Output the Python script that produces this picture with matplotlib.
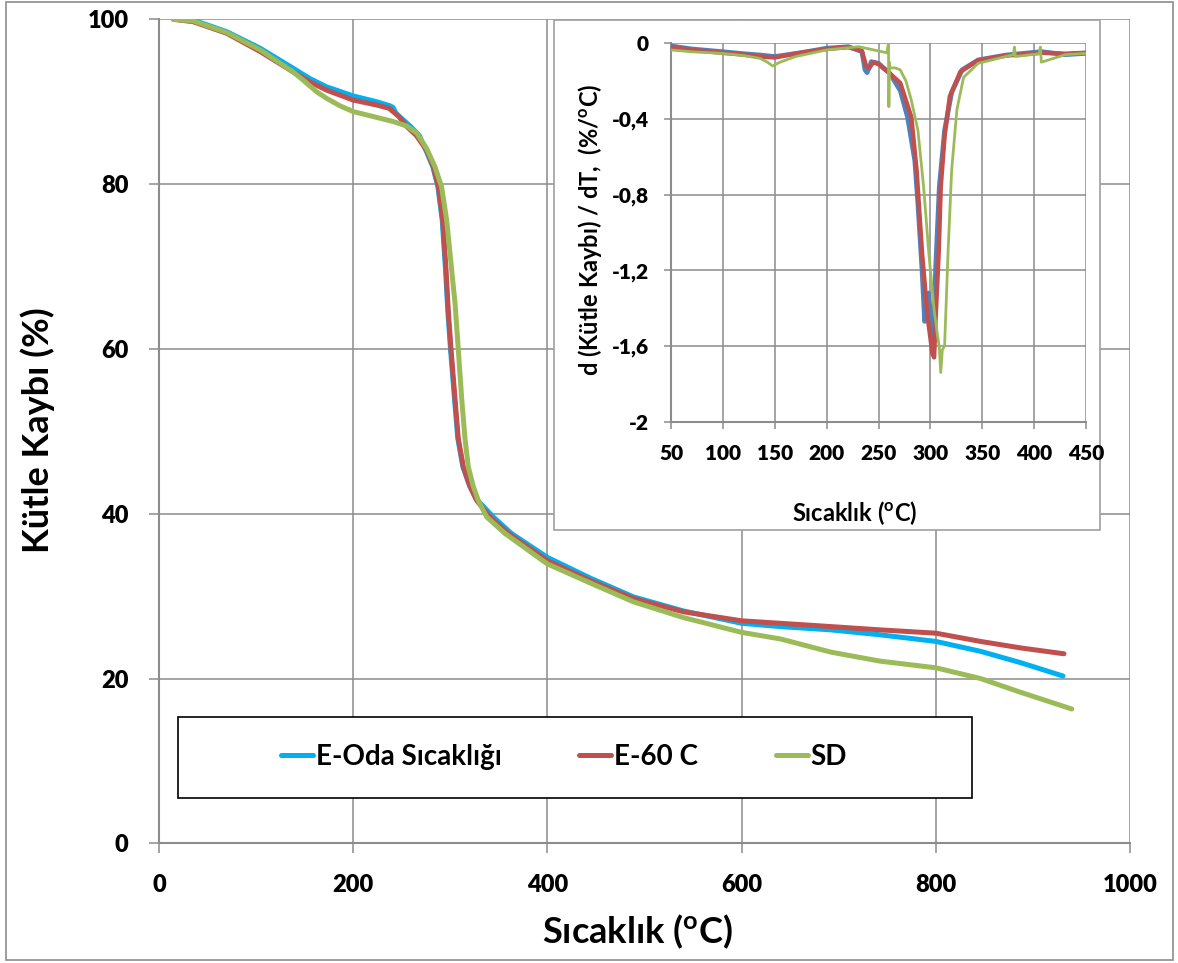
import matplotlib
matplotlib.use("Agg")
import matplotlib.pyplot as plt
from matplotlib.patches import Rectangle

plt.rcParams['font.family'] = ['Lato', 'DejaVu Sans']
plt.rcParams['font.weight'] = 'bold'
plt.rcParams['mathtext.fontset'] = 'custom'
plt.rcParams['mathtext.rm'] = 'Lato:bold'
plt.rcParams['mathtext.bf'] = 'Lato:bold'

# ---------------- main TGA data ----------------
series_names = ["E-Oda Sıcaklığı", "E-60 C", "SD"]

t_blue = [15, 35.4, 69.7, 104, 138.3, 155.5, 172.7, 200, 224, 238, 241, 244, 259, 268, 275.2,
          282, 287.2, 291.7, 295.1, 297.5, 300.2, 304.3, 307.7, 312.9, 319.8, 326.7, 344.3,
          363, 400, 443.9, 488.7, 540, 600, 640, 692, 743, 800, 846, 888, 931]
m_blue = [100, 99.9, 98.5, 96.5, 94.05, 92.8, 91.8, 90.7, 90.0, 89.5, 89.3, 88.6, 87.0, 85.9, 84.0,
          82.1, 79.7, 75.6, 69.6, 64.5, 60, 54.0, 49.15, 45.7, 43.4, 41.8, 39.6,
          37.6, 34.7, 32.2, 29.9, 28.2, 26.7, 26.3, 25.9, 25.3, 24.5, 23.3, 21.9, 20.3]

t_red = [15, 35.4, 69.7, 104, 138.3, 155.5, 172.7, 200, 224, 237, 247, 255, 265, 275.7, 282.5,
         287.7, 292.2, 295.6, 298, 300.7, 304.8, 308.2, 313.4, 320.3, 327.2, 340.9, 359.8,
         400, 443.9, 488.7, 540, 600, 640, 692, 743, 800, 846, 888, 932]
m_red = [100, 99.7, 98.3, 96.1, 93.6, 92.4, 91.4, 90.2, 89.6, 89.2, 88.2, 87.0, 85.9, 84.1, 82.1,
         79.7, 75.6, 69.6, 64.5, 60, 54.0, 49.15, 45.7, 43.3, 41.6, 39.6, 37.6,
         34.3, 31.9, 29.7, 28.1, 27.0, 26.7, 26.3, 25.9, 25.5, 24.5, 23.7, 23.0]

t_green = [14.6, 35.4, 69.7, 104, 138.3, 148.6, 162.4, 172.7, 186.4, 200, 224, 241, 255, 265.4,
           275.7, 284.2, 291, 296.3, 301.4, 304.9, 308.2, 311.7, 315.1, 318.5, 323.7, 328.8,
           337.5, 356.3, 400, 443.9, 488.7, 540, 600, 640, 692, 743, 800, 846, 888, 940]
m_green = [100, 99.8, 98.4, 96.3, 93.6, 92.6, 91.2, 90.4, 89.5, 88.8, 88.1, 87.6, 87.05, 86.2,
           84.3, 82.1, 79.7, 75.6, 69.6, 65.5, 60, 54.0, 49.15, 45.7, 43.3, 41.6,
           39.6, 37.6, 33.9, 31.6, 29.3, 27.4, 25.6, 24.8, 23.2, 22.1, 21.3, 20.0, 18.3, 16.3]

main_xticks = [0, 200, 400, 600, 800, 1000]
main_yticks = [0, 20, 40, 60, 80, 100]

# ---------------- inset DTG data ----------------
dt_blue = [50, 70, 99, 120, 136, 150, 175, 200, 221, 234, 237, 239, 241, 243, 250, 261, 271, 278,
           285, 288, 292, 294.5, 296, 298.5, 300, 302, 303, 305, 308.6, 313.7, 320.5, 330.6, 346,
           373, 407, 430, 450]
dv_blue = [-0.014, -0.03, -0.044, -0.055, -0.062, -0.07, -0.05, -0.026, -0.018, -0.044, -0.14,
           -0.155, -0.13, -0.097, -0.106, -0.16, -0.25, -0.39, -0.62, -0.85, -1.2, -1.47, -1.40,
           -1.32, -1.45, -1.55, -1.5, -1.2, -0.76, -0.46, -0.26, -0.14, -0.088, -0.062, -0.044,
           -0.06, -0.053]

dt_red = [50, 70, 99, 120, 136, 150, 175, 200, 221, 234, 238, 241, 245, 250, 261, 271, 281.6, 286.7,
          292, 297, 302, 303.6, 305, 308, 310, 313.7, 318.8, 329, 346, 373, 407, 430, 450]
dv_red = [-0.02, -0.035, -0.05, -0.06, -0.07, -0.075, -0.05, -0.03, -0.02, -0.04, -0.12, -0.13,
          -0.1, -0.11, -0.16, -0.21, -0.39, -0.67, -1.11, -1.43, -1.64, -1.66, -1.46, -1.11, -0.76,
          -0.49, -0.28, -0.15, -0.09, -0.065, -0.05, -0.055, -0.05]

dt_green = [50, 70, 99, 120, 136, 143, 148, 155, 170, 200, 231, 253, 258, 259.6, 260, 260.5, 261,
            266, 271, 276.5, 281.6, 288, 293.5, 298.5, 303.6, 307, 308.5, 310, 311.5, 313.7, 317,
            320.5, 325.6, 332, 346, 380, 381, 382, 405, 406, 407, 430, 450]
dv_green = [-0.035, -0.045, -0.053, -0.065, -0.08, -0.1, -0.12, -0.1, -0.07, -0.035, -0.018,
            -0.044, -0.05, 0.0, -0.335, -0.1, -0.13, -0.13, -0.14, -0.2, -0.3, -0.46, -0.76, -1.11,
            -1.41, -1.55, -1.60, -1.74, -1.62, -1.6, -1.11, -0.67, -0.35, -0.18, -0.106, -0.06,
            -0.02, -0.07, -0.055, -0.02, -0.1, -0.06, -0.053]

inset_xticks = [50, 100, 150, 200, 250, 300, 350, 400, 450]
inset_yticks = [-2, -1.6, -1.2, -0.8, -0.4, 0]
inset_yticklabels = ["-2", "-1,6", "-1,2", "-0,8", "-0,4", "0"]

c_blue, c_red, c_green = "#00B0F0", "#C0504D", "#9BBB59"
c_blue2 = "#4F81BD"
gridc = "#8C8C8C"

W, H = 1178, 963
fig = plt.figure(figsize=(W / 100, H / 100), dpi=100)

def fx(px):
    return px / W

def fy(py):
    return 1 - py / H

# figure border
fig.patches.append(Rectangle((fx(6), fy(960)), fx(1173) - fx(6), fy(2) - fy(960),
                             transform=fig.transFigure, fill=False, edgecolor="#8C8C8C", lw=1.2))

ax = fig.add_axes([fx(159), fy(843.3), fx(1130) - fx(159), fy(19.3) - fy(843.3)])
lw = 3.6
kw = dict(lw=lw, solid_capstyle='round', solid_joinstyle='round')
ax.plot(t_blue, m_blue, color=c_blue, label=series_names[0], zorder=3, **kw)
ax.plot(t_red, m_red, color=c_red, label=series_names[1], zorder=4, **kw)
ax.plot(t_green, m_green, color=c_green, label=series_names[2], zorder=5, **kw)
ax.set_xlim(0, 1000)
ax.set_ylim(0, 100)
ax.set_xticks(main_xticks)
ax.set_xticklabels([str(v) for v in main_xticks], fontweight="heavy", fontsize=17)
ax.set_yticks(main_yticks)
ax.set_yticklabels([str(v) for v in main_yticks], fontweight="heavy", fontsize=17)
ax.grid(True, color=gridc, lw=1.1)
ax.set_axisbelow(True)
for s in ["top", "right"]:
    ax.spines[s].set_visible(False)
for s in ["left", "bottom"]:
    ax.spines[s].set_color(gridc)
    ax.spines[s].set_linewidth(1.5)
ax.tick_params(axis="both", direction="out", length=7, width=1.1, color=gridc, pad=15)
ax.set_xlabel(r"Sıcaklık ($^{\rm o}$C)", fontsize=26, fontweight="bold", va="center")
ax.set_ylabel("Kütle Kaybı (%)", fontsize=26, fontweight="bold", va="center")
ax.xaxis.set_label_coords((637 - 159) / 971, -(932 - 843.3) / 824)
ax.yaxis.set_label_coords((38 - 159) / 971, 1 - (430 - 19.3) / 824)

# legend box and legend
fig.patches.append(Rectangle((fx(178), fy(798)), fx(972) - fx(178), fy(717) - fy(798),
                             transform=fig.transFigure, facecolor="white", edgecolor="black",
                             lw=1.2, zorder=6))
handles, labels = ax.get_legend_handles_labels()
leg = fig.legend(handles, labels, loc="center", bbox_to_anchor=(fx(564), fy(757)),
                 ncol=3, frameon=False, handlelength=1.15, handletextpad=0.1,
                 columnspacing=2.8, prop={"weight": "bold", "size": 20})
leg.set_zorder(7)

# inset box
fig.patches.append(Rectangle((fx(554), fy(530)), fx(1100) - fx(554), fy(20) - fy(530),
                             transform=fig.transFigure, facecolor="white", edgecolor="#A0A0A0",
                             lw=1.2, zorder=8))

axi = fig.add_axes([fx(671), fy(421.7), fx(1086) - fx(671), fy(43.3) - fy(421.7)])
axi.set_zorder(9)
axi.plot(dt_blue, dv_blue, color=c_blue2, lw=3.4, zorder=3)
axi.plot(dt_red, dv_red, color=c_red, lw=3.2, zorder=4)
axi.plot(dt_green, dv_green, color=c_green, lw=2.0, zorder=5)
axi.set_xlim(50, 450)
axi.set_ylim(-2, 0)
axi.set_xticks(inset_xticks)
axi.set_xticklabels([str(v) for v in inset_xticks], fontweight="heavy", fontsize=15)
axi.set_yticks(inset_yticks)
axi.set_yticklabels(inset_yticklabels, fontweight="heavy", fontsize=15)
axi.grid(True, color=gridc, lw=1.1)
axi.set_axisbelow(True)
for s in ["top", "right"]:
    axi.spines[s].set_visible(False)
for s in ["left", "bottom"]:
    axi.spines[s].set_color(gridc)
    axi.spines[s].set_linewidth(1.5)
axi.tick_params(axis="both", direction="out", length=5, width=1.1, color=gridc, pad=11)
axi.set_xlabel(r"Sıcaklık ($^{\rm o}$C)", fontsize=17, fontweight="bold", va="center")
axi.set_ylabel(r"d (Kütle Kaybı) / dT,  (%/$^{\rm o}$C)", fontsize=17, fontweight="bold", va="center")
axi.xaxis.set_label_coords((855 - 671) / 415, -(513 - 421.7) / 378.4)
axi.yaxis.set_label_coords((590 - 671) / 415, 1 - (230 - 43.3) / 378.4)

fig.savefig("out.png", dpi=100)
